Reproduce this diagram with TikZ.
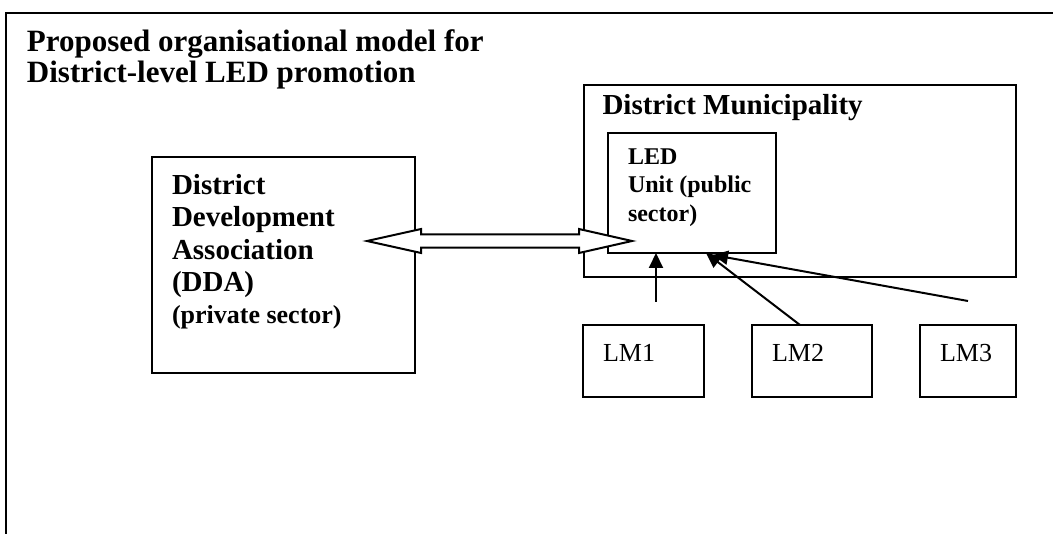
\documentclass[tikz,border=0pt]{standalone}
\usepackage{fontspec}
\setmainfont{Liberation Serif}
\usetikzlibrary{arrows.meta,calc}
\begin{document}
\begin{tikzpicture}[x=1pt,y=-1pt,
  box/.style={draw, line width=2pt, inner sep=0pt, outer sep=0pt},
  frameline/.style={line width=2.5pt},
  blockarrow/.style={draw, line width=2pt, fill=white, line join=miter},
  arr/.style={line width=2pt, -{Triangle[length=15pt,width=14pt]}},
  ttl/.style={anchor=base west, inner sep=0pt, outer sep=0pt, font=\fontsize{31}{33}\selectfont\bfseries},
  big/.style={anchor=base west, inner sep=0pt, outer sep=0pt, font=\fontsize{29}{32}\selectfont\bfseries},
  mid/.style={anchor=base west, inner sep=0pt, outer sep=0pt, font=\fontsize{26}{30}\selectfont\bfseries},
  small/.style={anchor=base west, inner sep=0pt, outer sep=0pt, font=\fontsize{24}{28}\selectfont\bfseries},
  lm/.style={anchor=base west, inner sep=0pt, outer sep=0pt, font=\fontsize{26}{30}\selectfont}
]
\useasboundingbox (0,0) rectangle (1053,534);
\fill[white] (0,0) rectangle (1053,534);

% outer frame (top and left edges visible)
\coordinate (fr) at (1060,13);
\coordinate (fc) at (6,13);
\coordinate (fb) at (6,540);
\draw[frameline] (fr) -- (fc) -- (fb);

% title
\node[ttl] (t1) at (27,52) {Proposed organisational model for};
\node[ttl] (t2) at (27,83) {District-level LED promotion};

% boxes
\node[box, minimum width=263pt, minimum height=216pt] (dda) at (283.5,265) {};
\node[box, minimum width=432pt, minimum height=192pt] (dm) at (800,181) {};
\node[box, minimum width=168pt, minimum height=120pt] (led) at (692,193) {};
\node[box, minimum width=121pt, minimum height=72pt] (lm1) at (643.5,361) {};
\node[box, minimum width=120pt, minimum height=72pt] (lm2) at (812,361) {};
\node[box, minimum width=96pt, minimum height=72pt] (lm3) at (968,361) {};

% double block arrow between DDA and LED unit
\coordinate (dl) at (367,241);
\coordinate (dr) at (632,241);
\draw[blockarrow] (dl) -- ++(54,-12) -- ++(0,5.3) -- ($(dr)+(-53,-6.7)$) -- ++(0,-5.3)
  -- (dr) -- ++(-53,12) -- ++(0,-5.3) -- ($(dl)+(54,6.7)$) -- ++(0,5.3) -- cycle;

% texts in boxes
\node[big] (dmt) at (602.5,115) {District Municipality};
\node[small] (led1) at (628,165) {LED};
\node[small] (led2) at (628,193) {Unit (public};
\node[small] (led3) at (628,222) {sector)};
\node[big] (dda1) at (172,195) {District};
\node[big] (dda2) at (172,227) {Development};
\node[big] (dda3) at (172,260) {Association};
\node[big] (dda4) at (172,292) {(DDA)};
\node[mid] (dda5) at (172,324) {(private sector)};
\node[lm] (lm1t) at (603,362) {LM1};
\node[lm] (lm2t) at (772,362) {LM2};
\node[lm] (lm3t) at (940,362) {LM3};

% arrows from local municipalities to LED unit
\coordinate (a1) at (656,302);
\draw[arr] (a1) -- (a1 |- led.south);
\coordinate (a2) at ($(lm2.north)+(-12,0)$);
\coordinate (h2) at (706,253);
\draw[arr] (a2) -- (h2);
\coordinate (a3) at (968,301);
\coordinate (h3) at (713,255);
\draw[arr] (a3) -- (h3);
\end{tikzpicture}
\end{document}
